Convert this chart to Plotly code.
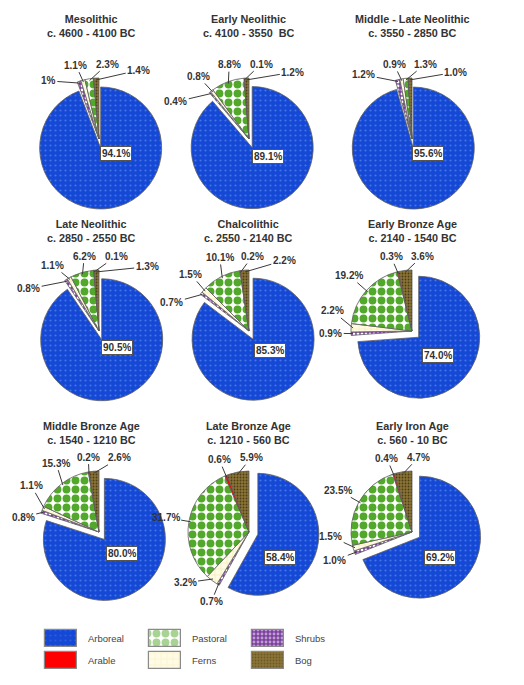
import math
import plotly.graph_objects as go

# the page adds an 8px body margin, so the figure is drawn 16px smaller
PAGE_W, PAGE_H, PAD = 524, 685, 8
FW, FH = PAGE_W - 2 * PAD, PAGE_H - 2 * PAD

# --- data -----------------------------------------------------------------
PERIODS = ["Mesolithic", "Early Neolithic", "Middle - Late Neolithic",
           "Late Neolithic", "Chalcolithic", "Early Bronze Age",
           "Middle Bronze Age", "Late Bronze Age", "Early Iron Age"]
DATES = ["c. 4600 - 4100 BC", "c. 4100 - 3550  BC", "c. 3550 - 2850 BC",
         "c. 2850 - 2550 BC", "c. 2550 - 2140 BC", "c. 2140 - 1540 BC",
         "c. 1540 - 1210 BC", "c. 1210 - 560 BC", "c. 560 - 10 BC"]

# slice order, clockwise from 12 o'clock
CATEGORIES = ["Arboreal", "Shrubs", "Ferns", "Pastoral", "Arable", "Bog"]
ARBOREAL = [94.1, 89.1, 95.6, 90.5, 85.3, 74.0, 80.0, 58.4, 69.2]
SHRUBS = [1, 0.4, 1.2, 0.8, 0.7, 0.9, 0.8, 0.7, 1.0]   # int -> shown as "1%"
FERNS = [1.1, 0.8, 0.9, 1.1, 1.5, 2.2, 1.1, 3.2, 1.5]
PASTORAL = [2.3, 8.8, 1.3, 6.2, 10.1, 19.2, 15.3, 31.7, 23.5]
ARABLE = [0, 0.1, 0, 0.1, 0.2, 0.3, 0.2, 0.6, 0.4]
BOG = [1.4, 1.2, 1.0, 1.3, 2.2, 3.6, 2.6, 5.9, 4.7]

LEGEND_ORDER = ["Arboreal", "Pastoral", "Shrubs", "Arable", "Ferns", "Bog"]

# --- styling ----------------------------------------------------------------
STYLE = {
    "Arboreal": dict(bg="#1548d4", fg="#4474e6", shape=".", size=5, solidity=0.15),
    "Shrubs":   dict(bg="#7b3f9e", fg="#ffffff", shape=".", size=4, solidity=0.4),
    "Ferns":    dict(bg="#fffbe4", fg="#eee2a0", shape="+", size=6, solidity=0.15),
    "Pastoral": dict(bg="#ffffff", fg="#52a82a", shape=".", size=9, solidity=0.6),
    "Arable":   dict(bg="#ff0000", fg="#ff0000", shape="", size=8, solidity=0.3),
    "Bog":      dict(bg="#8a7436", fg="#4e3c16", shape=".", size=3, solidity=0.3),
}
COL_X = [99, 249, 412]        # pie centres in page px
ROW_Y = [139, 331, 532]
TITLE_X = [91, 248, 412]
TITLE_Y = [26, 231, 433]
RADIUS = 61
PULL = 0.15
BIAS = 6                      # crowded label groups lean clockwise (deg)
TXT = "#333333"
FONT = "Liberation Sans"


def fx(x):
    return (x - PAD) / FW


def fy(y):
    return 1 - (y - PAD) / FH


def fmt(v):
    return f"{v}%" if isinstance(v, int) else f"{v:.1f}%"


def label_radius(deg, halfw=12):
    b = math.radians(deg)
    return RADIUS + 8 + halfw * abs(math.sin(b)) + 5 * abs(math.cos(b))


def min_gap(deg):
    """Angular room a label needs: wide near the top, short at the sides."""
    b = math.radians(deg)
    px = 8 + 22 * abs(math.cos(b)) + 12 * abs(math.sin(b))
    return math.degrees(px / label_radius(deg))


def spread(angles):
    """Merge overlapping labels into evenly spaced, centred groups."""
    clusters = [[a] for a in angles]

    def place(cl):
        ctr = sum(cl) / len(cl) + (BIAS if len(cl) > 1 else 0)
        g = min_gap(ctr)
        return [ctr + g * (k - (len(cl) - 1) / 2) for k in range(len(cl))]

    merged = True
    while merged:
        merged = False
        for k in range(len(clusters) - 1):
            lo, hi = place(clusters[k])[-1], place(clusters[k + 1])[0]
            if hi - lo < min_gap((lo + hi) / 2):
                clusters[k] += clusters.pop(k + 1)
                merged = True
                break
    return [a for cl in clusters for a in place(cl)]


fig = go.Figure()
annotations = []
lbl_font = dict(family=FONT, size=10, color=TXT, weight="bold")

for i, period in enumerate(PERIODS):
    r, c = divmod(i, 3)
    cx, cy = COL_X[c], ROW_Y[r]
    vals = [ARBOREAL[i], SHRUBS[i], FERNS[i], PASTORAL[i], ARABLE[i], BOG[i]]
    half = RADIUS * (1 + PULL)
    fig.add_trace(go.Pie(
        labels=CATEGORIES, values=vals, textinfo="none",
        sort=False, direction="clockwise", rotation=0,
        pull=[PULL, 0, 0, 0, 0, 0],
        domain=dict(x=[fx(cx - half), fx(cx + half)],
                    y=[fy(cy + half), fy(cy - half)]),
        marker=dict(
            colors=[STYLE[k]["bg"] for k in CATEGORIES],
            line=dict(color="#5e5e5e", width=0.8),
            pattern=dict(
                shape=[STYLE[k]["shape"] for k in CATEGORIES],
                bgcolor=[STYLE[k]["bg"] for k in CATEGORIES],
                fgcolor=[STYLE[k]["fg"] for k in CATEGORIES],
                size=[STYLE[k]["size"] for k in CATEGORIES],
                solidity=[STYLE[k]["solidity"] for k in CATEGORIES],
            ),
        ),
        showlegend=False, hoverinfo="label+percent", name=period,
    ))

    # outside labels with leader lines for the small shares
    total = sum(vals)
    cum, mids, texts = 0.0, [], []
    for v in vals:
        if v and cum > 0:
            mids.append(360 * (cum + v / 2) / total)
            texts.append(fmt(v))
        cum += v
    for th, tl, tx in zip(mids, spread(mids), texts):
        a, b = math.radians(th), math.radians(tl)
        hx, hy = cx + 0.97 * RADIUS * math.sin(a), cy - 0.97 * RADIUS * math.cos(a)
        hw = 2.8 * len(tx) + 1
        rt = label_radius(tl, hw)
        tx_ = max(cx + rt * math.sin(b), PAD + hw + 3)   # keep inside the page
        ty_ = cy - rt * math.cos(b)
        annotations.append(dict(
            x=fx(hx), y=fy(hy), xref="paper", yref="paper",
            ax=tx_ - hx, ay=ty_ - hy, text=tx, font=lbl_font,
            showarrow=True, arrowhead=0, arrowwidth=1, arrowcolor="#3a3a3a",
            standoff=0, xanchor="center", yanchor="middle",
        ))

    # boxed label for the arboreal share
    off = 95.6 - ARBOREAL[i]
    dx = min(16 + 0.45 * off, 31)
    dy = min(14 + 0.5 * off, 25)
    annotations.append(dict(
        x=fx(cx + dx), y=fy(cy + dy), xref="paper", yref="paper",
        text=fmt(ARBOREAL[i]), showarrow=False, font=lbl_font,
        xanchor="center", yanchor="middle",
        bgcolor="white", bordercolor="#555555", borderwidth=1, borderpad=1,
    ))
    annotations.append(dict(
        x=fx(TITLE_X[c]), y=fy(TITLE_Y[r]), xref="paper", yref="paper",
        text=f"{period}<br>{DATES[i]}", showarrow=False, align="center",
        font=dict(family=FONT, size=10.8, color=TXT, weight="bold"),
        xanchor="center", yanchor="middle",
    ))

# --- legend: patterned swatches drawn as bars on a hidden page-px axis ------
LEG_X0, LEG_DX = 45, 103.5
LEG_Y0, LEG_DY = 638.5, 22
SW_W, SW_H = 32, 17
for j, name in enumerate(LEGEND_ORDER):
    rr, cc = divmod(j, 3)
    x0 = LEG_X0 + cc * LEG_DX
    yc = LEG_Y0 + rr * LEG_DY
    st = STYLE[name]
    fig.add_trace(go.Bar(
        orientation="h", y=[yc], x=[SW_W], base=[x0], width=[SW_H],
        marker=dict(color=st["bg"], line=dict(color="#8a8a8a", width=1.2),
                    pattern=dict(shape=st["shape"], bgcolor=st["bg"],
                                 fgcolor=st["fg"], size=st["size"],
                                 solidity=st["solidity"])),
        showlegend=False, hoverinfo="skip", name=name,
    ))
    annotations.append(dict(
        x=x0 + 41, y=yc, xref="x", yref="y", text=name, showarrow=False,
        xanchor="left", yanchor="middle",
        font=dict(family=FONT, size=9.5, color="#444444"),
    ))

fig.update_layout(
    width=FW, height=FH,
    margin=dict(l=0, r=0, t=0, b=0),
    paper_bgcolor="white", plot_bgcolor="rgba(0,0,0,0)",
    xaxis=dict(range=[PAD, PAD + FW], visible=False, fixedrange=True, domain=[0, 1]),
    yaxis=dict(range=[PAD + FH, PAD], visible=False, fixedrange=True, domain=[0, 1]),
    annotations=annotations,
    barmode="overlay", bargap=0,
)

fig.write_html("out.html")
